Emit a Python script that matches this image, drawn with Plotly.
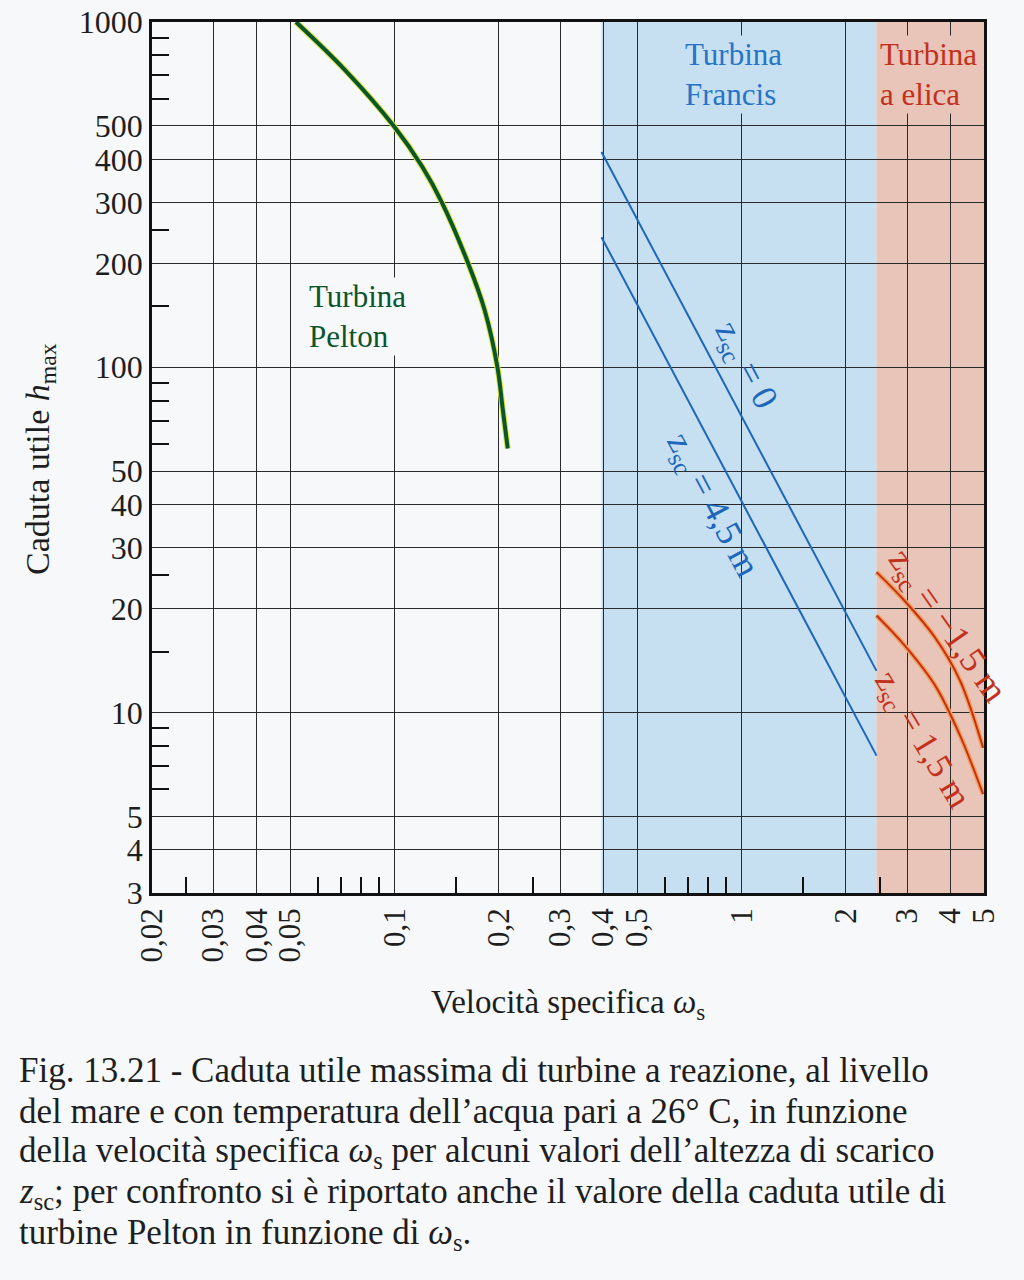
import math
import plotly.graph_objects as go

# ---------------- data ----------------
x_tickvals = [0.02, 0.03, 0.04, 0.05, 0.1, 0.2, 0.3, 0.4, 0.5, 1, 2, 3, 4, 5]
x_ticktext = ["0,02", "0,03", "0,04", "0,05", "0,1", "0,2", "0,3", "0,4", "0,5",
              "1", "2", "3", "4", "5"]
x_minor = [0.025, 0.06, 0.07, 0.08, 0.09, 0.15, 0.25, 0.6, 0.7, 0.8, 0.9, 1.5, 2.5]
y_tickvals = [3, 4, 5, 10, 20, 30, 40, 50, 100, 200, 300, 400, 500, 1000]
y_ticktext = ["3", "4", "5", "10", "20", "30", "40", "50", "100", "200", "300",
              "400", "500", "1000"]
y_minor = [6, 7, 8, 9, 15, 25, 60, 70, 80, 90, 150, 250, 600, 700, 800, 900]

# Pelton turbine curve
pelton_w = [0.052, 0.072, 0.0995, 0.12, 0.137, 0.163, 0.182, 0.198, 0.205, 0.212]
pelton_h = [1000, 726, 500, 382, 300, 200, 146, 100, 75.8, 58.2]

# Francis turbine range and lines
francis_range = [0.395, 2.45]
francis_w = [0.395, 2.45]
francis_h_z0 = [420, 13.2]
francis_h_z45 = [238, 7.5]

# Propeller (elica) turbine range and curves
elica_range = [2.45, 5]
elica_w_m15 = [2.45, 2.96, 3.61, 4.26, 4.97]
elica_h_m15 = [25.5, 21.0, 16.5, 12.4, 7.9]
elica_w_p15 = [2.45, 2.96, 3.61, 4.26, 4.97]
elica_h_p15 = [19.1, 15.6, 12.0, 8.6, 5.8]

caption_lines = [
    "Fig. 13.21 - Caduta utile massima di turbine a reazione, al livello",
    "del mare e con temperatura dell’acqua pari a 26° C, in funzione",
    "della velocità specifica <i>ω</i><sub>s</sub> per alcuni valori dell’altezza di scarico",
    "<i>z</i><sub>sc</sub>; per confronto si è riportato anche il valore della caduta utile di",
    "turbine Pelton in funzione di <i>ω</i><sub>s</sub>.",
]

# ---------------- styling ----------------
SERIF = "Liberation Serif, Times New Roman, serif"
PAGE = "#f6f8f9"
BLUE_BG = "#c6e0f1"
RED_BG = "#e8c5b8"
BLUE = "#1d66bb"
RED = "#c3301c"
GREEN = "#0b552c"
INK = "#1e1e1e"

W, H = 1024, 1280
L, R, T, B = 152, 40, 22, 387
PW, PH = W - L - R, H - T - B


def px2paper_x(px):
    return (px - L) / PW


def px2paper_y(py):
    return (H - B - py) / PH


lg = math.log10

fig = go.Figure()

# Pelton curve (yellow fringe + dark green core)
fig.add_trace(go.Scatter(x=pelton_w, y=pelton_h, mode="lines",
                         line=dict(color="#d9e63a", width=6, shape="spline", smoothing=1.0),
                         hoverinfo="skip", showlegend=False))
fig.add_trace(go.Scatter(x=pelton_w, y=pelton_h, mode="lines",
                         line=dict(color=GREEN, width=4, shape="spline", smoothing=1.0),
                         showlegend=False))

# Francis lines
for hh in (francis_h_z0, francis_h_z45):
    fig.add_trace(go.Scatter(x=francis_w, y=hh, mode="lines",
                             line=dict(color=BLUE, width=2), showlegend=False))

# Propeller curves (orange glow + red core)
for ww, hh in ((elica_w_m15, elica_h_m15), (elica_w_p15, elica_h_p15)):
    fig.add_trace(go.Scatter(x=ww, y=hh, mode="lines",
                             line=dict(color="#f4a25a", width=5, shape="spline", smoothing=1.0),
                             hoverinfo="skip", showlegend=False))
    fig.add_trace(go.Scatter(x=ww, y=hh, mode="lines",
                             line=dict(color=RED, width=2, shape="spline", smoothing=1.0),
                             showlegend=False))

# Shaded regions
fig.add_shape(type="rect", xref="x", yref="paper", x0=francis_range[0], x1=francis_range[1],
              y0=0, y1=1, fillcolor=BLUE_BG, line_width=0, layer="below")
fig.add_shape(type="rect", xref="x", yref="paper", x0=elica_range[0], x1=elica_range[1],
              y0=0, y1=1, fillcolor=RED_BG, line_width=0, layer="below")

annotations = []
# Region labels
annotations.append(dict(x=lg(0.0559), y=lg(140), xref="x", yref="y", xanchor="left",
                        yanchor="middle", align="left", showarrow=False,
                        text="Turbina<br>Pelton", bgcolor=PAGE,
                        font=dict(family=SERIF, size=31, color=GREEN)))
annotations.append(dict(x=lg(0.95), y=lg(705), xref="x", yref="y", xanchor="center",
                        yanchor="middle", align="left", showarrow=False,
                        text="Turbina<br>Francis", bgcolor=BLUE_BG,
                        font=dict(family=SERIF, size=31, color="#2574c6")))
annotations.append(dict(x=lg(2.47), y=lg(705), xref="x", yref="y", xanchor="left",
                        yanchor="middle", align="left", showarrow=False,
                        text="Turbina<br>a elica", bgcolor=RED_BG,
                        font=dict(family=SERIF, size=31, color=RED)))
# Line labels
annotations.append(dict(x=lg(1.02), y=lg(101), xref="x", yref="y", showarrow=False,
                        textangle=62, text="z<sub>sc</sub> = 0",
                        font=dict(family=SERIF, size=36, color=BLUE)))
annotations.append(dict(x=lg(0.82), y=lg(39.8), xref="x", yref="y", showarrow=False,
                        textangle=62, text="z<sub>sc</sub> = 4,5 m",
                        font=dict(family=SERIF, size=36, color=BLUE)))
annotations.append(dict(x=lg(3.9), y=lg(17.8), xref="x", yref="y", showarrow=False,
                        textangle=55, text="z<sub>sc</sub> = −1,5 m",
                        font=dict(family=SERIF, size=36, color=RED)))
annotations.append(dict(x=lg(3.31), y=lg(8.3), xref="x", yref="y", showarrow=False,
                        textangle=59, text="z<sub>sc</sub> = 1,5 m",
                        font=dict(family=SERIF, size=35, color=RED)))

# Axis titles
annotations.append(dict(x=px2paper_x(40), y=px2paper_y(459), xref="paper", yref="paper",
                        showarrow=False, textangle=-90, xanchor="center", yanchor="middle",
                        text="Caduta utile <i>h</i><sub>max</sub>",
                        font=dict(family=SERIF, size=34, color=INK)))
annotations.append(dict(x=px2paper_x(568), y=px2paper_y(1004), xref="paper", yref="paper",
                        showarrow=False, xanchor="center", yanchor="middle",
                        text="Velocità specifica <i>ω</i><sub>s</sub>",
                        font=dict(family=SERIF, size=33, color=INK)))

# Caption
cap_y = [1070, 1111, 1152, 1193, 1234]
for txt, yy in zip(caption_lines, cap_y):
    annotations.append(dict(x=px2paper_x(17), y=px2paper_y(yy), xref="paper", yref="paper",
                            showarrow=False, xanchor="left", yanchor="middle", align="left",
                            text=txt, font=dict(family=SERIF, size=35, color=INK)))

fig.update_layout(
    width=W, height=H, autosize=False,
    margin=dict(l=L, r=R, t=T, b=B, pad=0, autoexpand=False),
    paper_bgcolor=PAGE, plot_bgcolor=PAGE,
    showlegend=False,
    annotations=annotations,
    xaxis=dict(type="log", range=[lg(0.02), lg(5)], automargin=False,
               tickmode="array", tickvals=x_tickvals, ticktext=x_ticktext,
               tickangle=-90, ticks="", showgrid=True, gridcolor="#2a2a2a", gridwidth=1.3,
               showline=True, linecolor="#111", linewidth=2.5, mirror=True, zeroline=False,
               tickfont=dict(family=SERIF, size=31, color=INK),
               minor=dict(tickvals=x_minor, ticks="inside", ticklen=16, tickwidth=2,
                          tickcolor="#111", showgrid=False)),
    yaxis=dict(type="log", range=[lg(3), lg(1000)], automargin=False,
               tickmode="array", tickvals=y_tickvals, ticktext=y_ticktext,
               ticks="", showgrid=True, gridcolor="#2a2a2a", gridwidth=1.3,
               showline=True, linecolor="#111", linewidth=2.5, mirror=True, zeroline=False,
               tickfont=dict(family=SERIF, size=32, color=INK),
               minor=dict(tickvals=y_minor, ticks="inside", ticklen=17, tickwidth=2,
                          tickcolor="#111", showgrid=False)),
)

fig.write_html("out.html")
